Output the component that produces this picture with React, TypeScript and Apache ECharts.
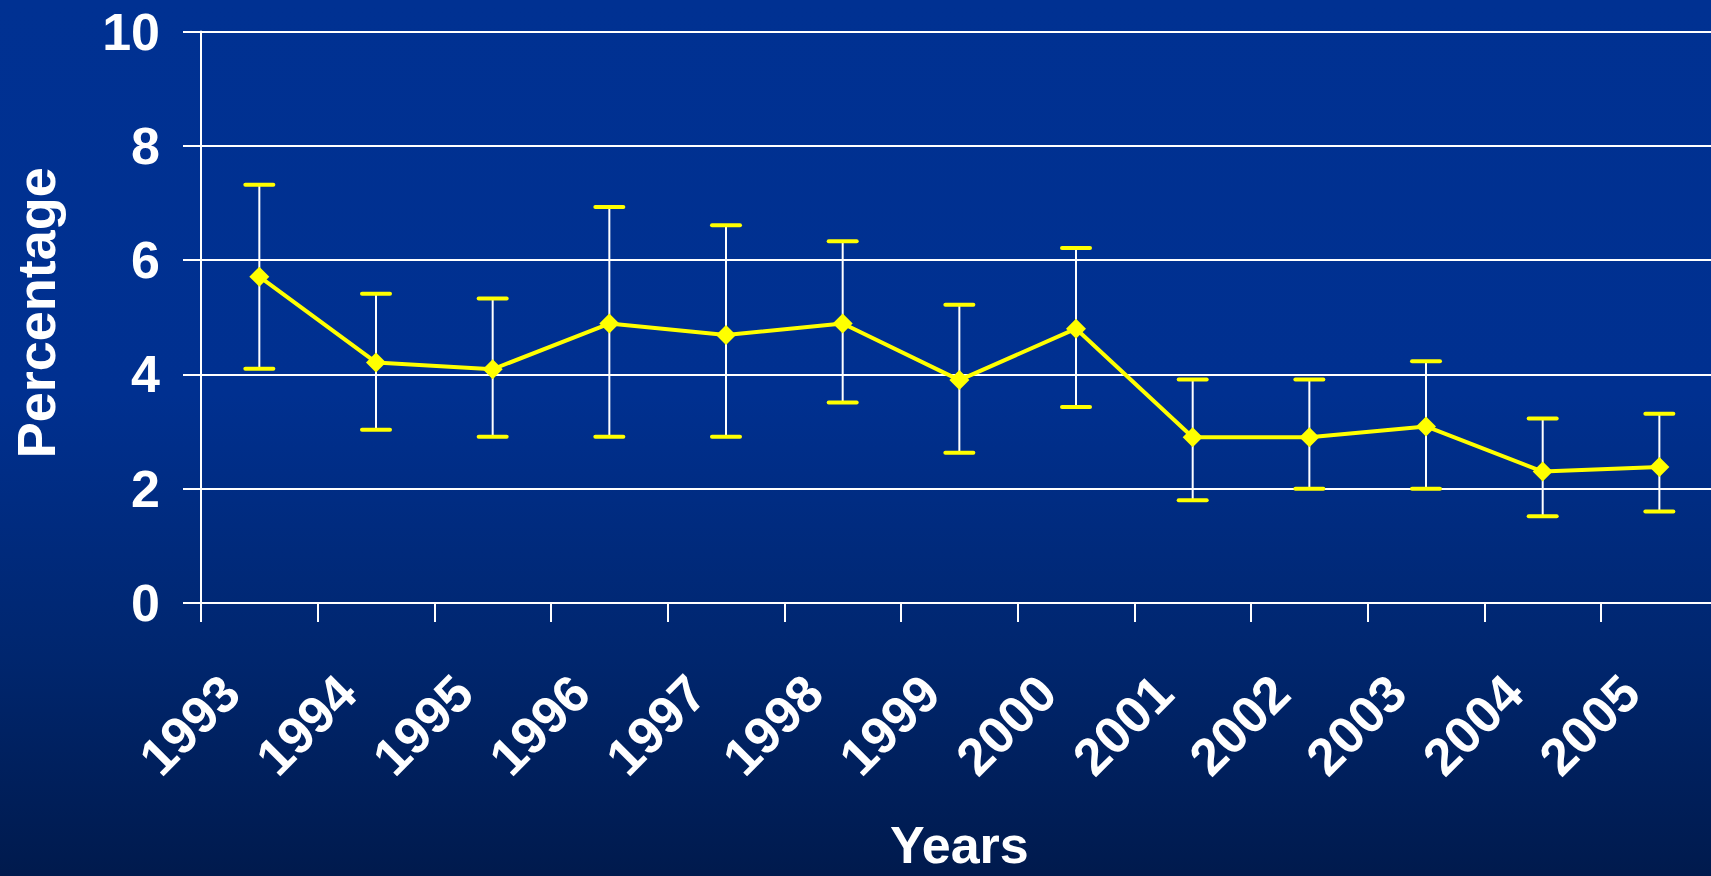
import React, { useEffect, useRef } from "react";
import * as echarts from "echarts";

const years = ["1993", "1994", "1995", "1996", "1997", "1998", "1999", "2000", "2001", "2002", "2003", "2004", "2005"];
const percentage = [5.71, 4.21, 4.09, 4.89, 4.69, 4.89, 3.9, 4.8, 2.9, 2.9, 3.09, 2.3, 2.38];
const lowerBound = [4.1, 3.03, 2.91, 2.91, 2.91, 3.51, 2.63, 3.43, 1.8, 2.0, 2.0, 1.52, 1.6];
const upperBound = [7.32, 5.41, 5.33, 6.93, 6.61, 6.33, 5.22, 6.21, 3.91, 3.91, 4.23, 3.23, 3.31];
const yTicks = [0, 2, 4, 6, 8, 10];

const FONT = '"Liberation Sans", Arial, Helvetica, sans-serif';

export default function App() {
  const ref = useRef<HTMLDivElement>(null);

  useEffect(() => {
    if (!ref.current) return;
    document.documentElement.style.overflow = "hidden";
    document.body.style.overflow = "hidden";
    document.body.style.margin = "0";
    const chart = echarts.init(ref.current, undefined, { renderer: "svg", width: 1718, height: 876 });
    const errorData = years.map((y, i) => [y, lowerBound[i], upperBound[i]]);
    chart.setOption({
      animation: false,
      backgroundColor: "transparent",
      grid: { left: 201, top: 31.5, width: 1516.7, height: 577.5, containLabel: false },
      xAxis: {
        type: "category",
        data: years,
        boundaryGap: true,
        name: "Years",
        nameLocation: "middle",
        nameGap: 216,
        nameTextStyle: { color: "#ffffff", fontSize: 52, fontWeight: "bold", fontFamily: FONT },
        axisLine: { show: true, lineStyle: { color: "#ffffff", width: 2 } },
        axisTick: { show: true, length: 19, lineStyle: { color: "#ffffff", width: 2 } },
        axisLabel: {
          interval: 0,
          rotate: 45,
          margin: 52,
          padding: [0, 41, 0, 0],
          color: "#ffffff",
          fontSize: 52,
          fontWeight: "bold",
          fontFamily: FONT,
        },
        splitLine: { show: false },
      },
      yAxis: {
        type: "value",
        min: yTicks[0],
        max: yTicks[yTicks.length - 1],
        interval: 2,
        name: "Percentage",
        nameLocation: "middle",
        nameGap: 138,
        nameTextStyle: {
          color: "#ffffff",
          fontSize: 54,
          fontWeight: "bold",
          fontFamily: FONT,
          padding: [0, 0, 0, 9],
        },
        axisLine: { show: true, lineStyle: { color: "#ffffff", width: 2 } },
        axisTick: { show: true, length: 18, lineStyle: { color: "#ffffff", width: 2 } },
        axisLabel: { margin: 41, color: "#ffffff", fontSize: 52, fontWeight: "bold", fontFamily: FONT },
        splitLine: { show: true, lineStyle: { color: "#ffffff", width: 2 } },
      },
      series: [
        {
          type: "custom",
          data: errorData,
          encode: { x: 0, y: [1, 2] },
          z: 2,
          renderItem: (params: any, api: any) => {
            const x = api.value(0);
            const lo = api.coord([x, api.value(1)]);
            const hi = api.coord([x, api.value(2)]);
            const hw = 14;
            return {
              type: "group",
              children: [
                {
                  type: "line",
                  shape: { x1: lo[0], y1: lo[1], x2: hi[0], y2: hi[1] },
                  style: { stroke: "#ffffff", lineWidth: 2 },
                },
                {
                  type: "line",
                  shape: { x1: hi[0] - hw, y1: hi[1], x2: hi[0] + hw, y2: hi[1] },
                  style: { stroke: "#ffff00", lineWidth: 4, lineCap: "round" },
                },
                {
                  type: "line",
                  shape: { x1: lo[0] - hw, y1: lo[1], x2: lo[0] + hw, y2: lo[1] },
                  style: { stroke: "#ffff00", lineWidth: 4, lineCap: "round" },
                },
              ],
            };
          },
        },
        {
          type: "line",
          data: percentage,
          z: 3,
          symbol: "diamond",
          symbolSize: 20,
          itemStyle: { color: "#ffff00" },
          lineStyle: { color: "#ffff00", width: 4 },
        },
      ],
    });
    return () => chart.dispose();
  }, []);

  return (
    <div
      style={{
        position: "fixed",
        left: 0,
        top: 0,
        width: 1711,
        height: 876,
        overflow: "hidden",
        background: "linear-gradient(to bottom, #003192 0%, #003090 45%, #00266e 75%, #001a4d 100%)",
      }}
    >
      <div ref={ref} style={{ position: "absolute", left: 0, top: 0, width: 1718, height: 876 }} />
    </div>
  );
}
